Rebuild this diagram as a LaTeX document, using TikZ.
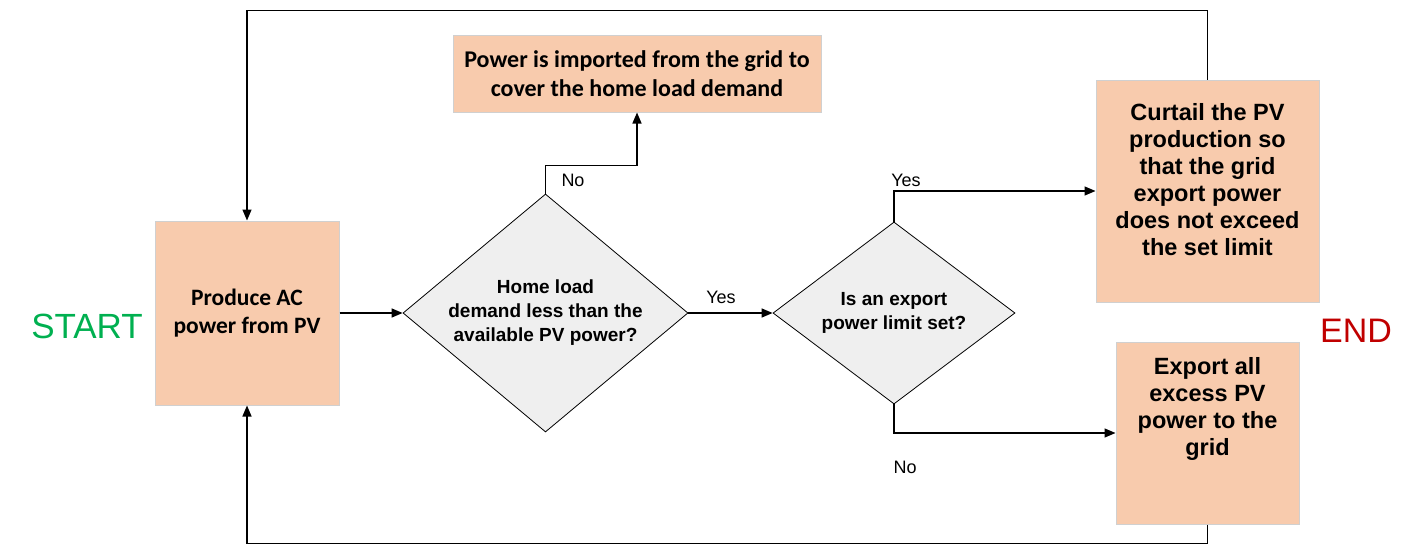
\documentclass[tikz,border=0pt]{standalone}
\usepackage{fontspec}
\setmainfont{Liberation Sans}
\newfontfamily\calibri{Carlito}
\usetikzlibrary{shapes.geometric,arrows.meta}
\definecolor{boxfill}{HTML}{F8CBAD}
\definecolor{boxline}{HTML}{D0D0D0}
\definecolor{dfill}{HTML}{EFEFEF}
\definecolor{startgreen}{HTML}{00B050}
\definecolor{endred}{HTML}{C00000}
\begin{document}
\begin{tikzpicture}[x=1pt,y=-1pt,
  pbox/.style={rectangle, fill=boxfill, draw=boxline, line width=1pt, align=center, inner sep=0pt},
  ptext/.style={align=center, inner sep=0pt, font=\bfseries\fontsize{23.5}{27}\selectfont},
  dbox/.style={diamond, fill=dfill, draw=black, line width=0.8pt, align=center, inner sep=0pt,
     font=\bfseries\fontsize{19}{24}\selectfont},
  arr/.style={line width=1.4pt, -{Triangle[length=11pt,width=9pt]}},
  lbl/.style={font=\fontsize{18}{20}\selectfont, inner sep=0pt}
]
\useasboundingbox (0,0) rectangle (1422,555);

\node[pbox, minimum width=184pt, minimum height=184pt,
  font=\calibri\bfseries\fontsize{23.5}{28.5}\selectfont] (prod) at (247,313) {Produce AC\\power from PV};
\node[pbox, minimum width=368pt, minimum height=77pt,
  font=\calibri\bfseries\fontsize{24}{28.5}\selectfont] (imp) at (637,73.5) {Power is imported from the grid to\\cover the home load demand};
\node[pbox, minimum width=223pt, minimum height=222pt] (cur) at (1207.5,191) {};
\node[ptext] (curt) at ([yshift=11pt]cur.center) {Curtail the PV\\production so\\that the grid\\export power\\does not exceed\\the set limit};
\node[pbox, minimum width=183pt, minimum height=182pt] (exp) at (1207.5,433) {};
\node[ptext] (expt) at ([yshift=24pt]exp.center) {Export all\\excess PV\\power to the\\grid};

\node[dbox, minimum width=285pt, minimum height=238pt, aspect=1.2] (d1) at (545.5,313) {Home load\\demand less than the\\available PV power?};
\node[dbox, minimum width=242pt, minimum height=182pt, aspect=1.33] (d2) at (894,313) {Is an export\\power limit set?};

\node[text=startgreen, font=\fontsize{35}{36}\selectfont, inner sep=0pt] (start) at (87,326) {START};
\node[text=endred, font=\fontsize{34}{36}\selectfont, inner sep=0pt] (end) at (1356,331) {END};

\draw[arr] (prod.east) -- (d1.west);
\draw[arr] (d1.east) -- (d2.west);
\draw[arr] (d1.north) -- ++(0,-28) -| (imp.south);
\draw[arr] (d2.north) |- (cur.west);
\draw[arr] (d2.south) |- (exp.west);
\draw[arr] (cur.north) -- ++(0,-69) -| (prod.north);
\draw[arr] (exp.south) -- ++(0,19) -| (prod.south);

\node[lbl] (l1) at (573,180) {No};
\node[lbl] (l2) at (721,297) {Yes};
\node[lbl] (l3) at (906,180) {Yes};
\node[lbl] (l4) at (905,467) {No};
\end{tikzpicture}
\end{document}
